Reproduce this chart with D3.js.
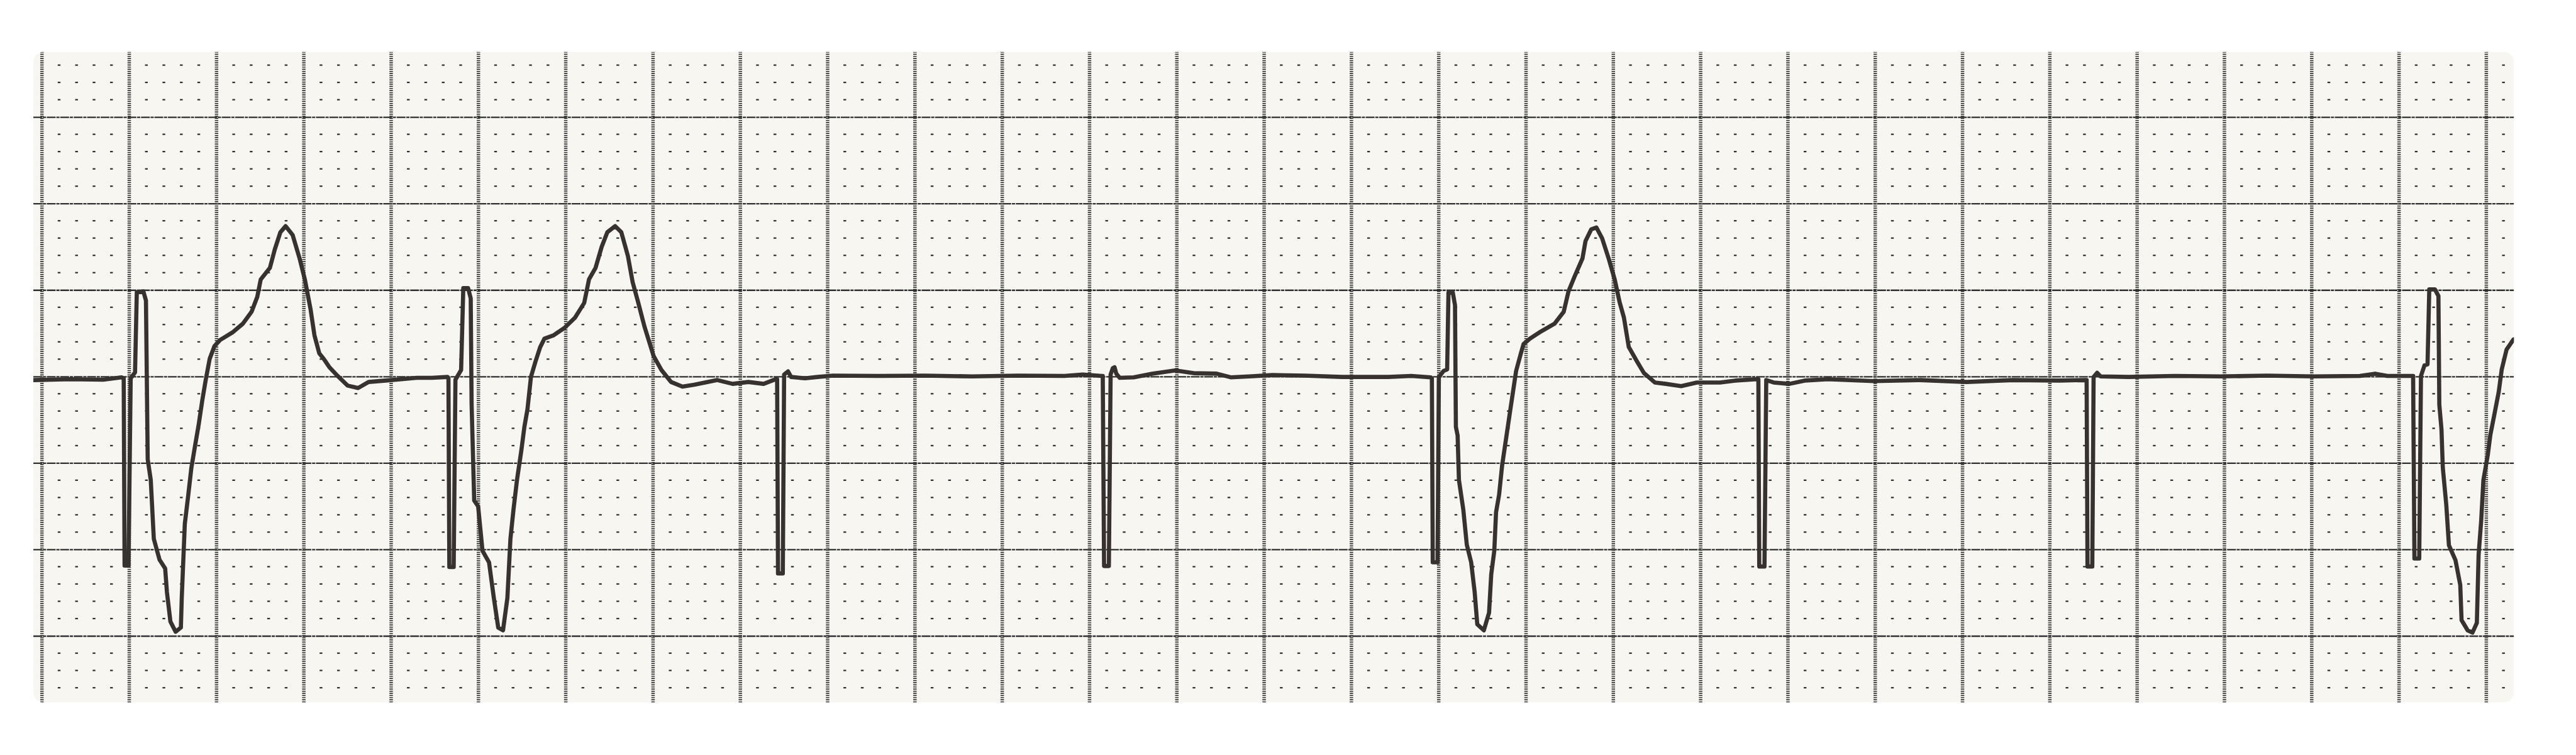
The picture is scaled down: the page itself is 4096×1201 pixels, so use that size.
<!DOCTYPE html>
<html><head><meta charset="utf-8">
<script src="https://cdn.jsdelivr.net/npm/d3@7"></script>
<style>html,body{margin:0;padding:0;background:#fff;overflow:hidden}</style>
</head><body><svg id="c" width="4096" height="1201"></svg>
<script>
// ---- Data: time in ms, amplitude in mV (25 mm/s, 10 mm/mV paper) ----
const leadIn = [[-19,-0.021],[64,-0.016],[141,-0.019],[183,-0.005]];
const pacedBeat1 = [[188,-0.011],[190,-1.094],[199,-1.094],[204,-0.011],[214,0.024],[218,0.487],[233,0.492],[239,0.439],[243,-0.479],[250,-0.599],[257,-0.939],[270,-1.059],[283,-1.110],[287,-1.246],[295,-1.417],[307,-1.476],[319,-1.452],[321,-1.281],[328,-0.853],[336,-0.684],[343,-0.529],[352,-0.393],[360,-0.275],[368,-0.139],[376,-0.019],[385,0.102],[396,0.176],[409,0.211],[437,0.254],[461,0.305],[481,0.374],[494,0.460],[502,0.561],[523,0.628],[534,0.733],[547,0.834],[559,0.869],[575,0.818],[591,0.682],[603,0.561],[616,0.390],[625,0.238],[636,0.134],[647,0.099],[660,0.051],[675,0.011],[701,-0.053],[725,-0.067],[749,-0.032],[788,-0.024],[824,-0.016],[859,-0.008],[894,-0.008],[930,-0.003]];
const pacedBeat2 = [[932,-0.011],[934,-1.102],[944,-1.102],[948,-0.019],[961,0.037],[966,0.511],[977,0.511],[983,0.452],[985,-0.155],[991,-0.717],[1000,-0.751],[1010,-1.008],[1025,-1.075],[1036,-1.281],[1046,-1.452],[1057,-1.468],[1067,-1.281],[1074,-0.939],[1081,-0.770],[1089,-0.599],[1099,-0.428],[1106,-0.291],[1113,-0.190],[1121,-0.003],[1131,0.083],[1142,0.168],[1152,0.219],[1173,0.238],[1198,0.281],[1222,0.340],[1243,0.425],[1254,0.561],[1269,0.628],[1283,0.749],[1296,0.834],[1314,0.869],[1328,0.834],[1343,0.698],[1354,0.545],[1367,0.425],[1381,0.289],[1402,0.118],[1420,0.037],[1442,-0.032],[1468,-0.059],[1495,-0.048],[1548,-0.021],[1583,-0.043],[1619,-0.032],[1654,-0.043],[1682,-0.016]];
const spikeOnly3 = [[1685,-0.016],[1687,-1.139],[1698,-1.139],[1701,0.011],[1710,0.029],[1717,-0.003],[1749,-0.011],[1778,-0.003],[1813,0.005],[1919,0.003],[2024,0.005],[2131,0],[2237,0.005],[2343,0.003],[2385,0.011],[2428,0.003]];
const spikeOnly4 = [[2431,0.003],[2434,-1.096],[2445,-1.096],[2449,0.011],[2454,0.048],[2458,0.053],[2462,0.016],[2470,-0.008],[2502,-0.005],[2544,0.016],[2597,0.035],[2639,0.019],[2692,0.016],[2724,-0.005],[2767,0],[2820,0.008],[2894,0.005],[2979,-0.003],[3085,-0.003],[3138,0.003],[3182,-0.005]];
const pacedBeat5 = [[3185,-0.011],[3187,-1.075],[3198,-1.075],[3201,-0.003],[3212,0.032],[3220,0.040],[3223,0.484],[3233,0.484],[3238,0.412],[3240,-0.291],[3244,-0.342],[3247,-0.599],[3257,-0.770],[3265,-0.973],[3275,-1.075],[3283,-1.246],[3289,-1.433],[3304,-1.468],[3316,-1.366],[3321,-1.144],[3328,-1.008],[3332,-0.786],[3339,-0.684],[3346,-0.513],[3353,-0.393],[3363,-0.222],[3371,-0.086],[3378,0.032],[3389,0.134],[3395,0.187],[3410,0.219],[3431,0.254],[3466,0.305],[3487,0.374],[3498,0.492],[3512,0.578],[3530,0.682],[3537,0.783],[3550,0.850],[3562,0.861],[3575,0.799],[3590,0.682],[3604,0.559],[3615,0.430],[3625,0.340],[3636,0.171],[3654,0.091],[3671,0.019],[3696,-0.035],[3721,-0.043],[3756,-0.056],[3792,-0.035],[3845,-0.035],[3880,-0.024],[3929,-0.016]];
const spikeOnly6 = [[3933,-0.016],[3935,-1.099],[3947,-1.099],[3951,-0.021],[3968,-0.035],[4004,-0.043],[4039,-0.024],[4092,-0.016],[4198,-0.027],[4304,-0.021],[4410,-0.032],[4516,-0.021],[4622,-0.024],[4682,-0.021]];
const spikeOnly7 = [[4685,-0.021],[4687,-1.099],[4698,-1.099],[4701,-0.003],[4709,0.021],[4717,0],[4781,-0.003],[4887,0.003],[4993,0],[5099,0.005],[5205,0],[5311,0.003],[5346,0.016],[5374,0.003],[5430,0.003]];
const pacedBeat8 = [[5433,0.003],[5436,-1.053],[5447,-1.053],[5451,0.003],[5459,0.064],[5466,0.070],[5470,0.503],[5483,0.503],[5491,0.465],[5493,-0.163],[5498,-0.307],[5501,-0.527],[5509,-0.743],[5515,-0.976],[5530,-1.062],[5541,-1.206],[5544,-1.409],[5558,-1.468],[5569,-1.481],[5579,-1.425],[5583,-1.032],[5589,-0.832],[5594,-0.599],[5604,-0.455],[5610,-0.337],[5618,-0.235],[5629,-0.091],[5636,0.040],[5647,0.155],[5663,0.214]];

const majorTimes = d3.range(0, 5601, 200);          // ms (large boxes)
const majorVolts = [-1.5, -1.0, -0.5, 0, 0.5, 1.0, 1.5]; // mV
const paperTime = [-19, 5664];
const paperVolt = [-1.885, 1.877];

// ---- Layout ----
const W = 4096, H = 1201, K = W / 5568;
const x = d3.scaleLinear().domain([0, 5600]).range([90 * K, 5373.5 * K]);
const y = d3.scaleLinear().domain([-1.5, 1.5]).range([1375 * K, 253 * K]);
const svg = d3.select('#c');
svg.append('rect').attr('width', W).attr('height', H).attr('fill', '#ffffff');

const px0 = x(paperTime[0]), px1 = x(paperTime[1]);
const py0 = y(paperVolt[1]), py1 = y(paperVolt[0]);
const defs = svg.append('defs');
defs.append('clipPath').attr('id', 'paper').append('rect')
  .attr('x', px0).attr('y', py0).attr('width', px1 - px0).attr('height', py1 - py0)
  .attr('rx', 16).attr('ry', 16);

const g = svg.append('g').attr('clip-path', 'url(#paper)');
g.append('rect').attr('x', px0).attr('y', py0).attr('width', px1 - px0).attr('height', py1 - py0)
  .attr('fill', '#f7f6f1');

// minor dot grid
const cols = d3.range(1, 142).filter(j => j % 5 !== 0).map(j => j * 40).filter(t => t < paperTime[1]);
const rows = d3.range(-18, 19).filter(i => i % 5 !== 0).map(i => i / 10);
const dots = [];
cols.forEach(t => rows.forEach(v => dots.push([t, v])));
g.append('g').selectAll('rect').data(dots).join('rect')
  .attr('x', d => x(d[0]) - 2.2).attr('y', d => y(d[1]) - 1.1)
  .attr('width', 4.4).attr('height', 2.2).attr('fill', '#2e2c2a');

// horizontal major lines (axis)
const yAxis = d3.axisLeft(y).tickValues(majorVolts).tickSize(-(px1 - px0)).tickFormat('');
const ya = g.append('g').attr('transform', `translate(${px0},0)`).call(yAxis);
ya.select('.domain').remove();
ya.selectAll('line').attr('stroke', '#2f2f2f').attr('stroke-width', 2.3)
  .attr('stroke-dasharray', '14 1.2 5 1.2');

// vertical major lines (axis)
const xAxis = d3.axisBottom(x).tickValues(majorTimes).tickSize(-(py1 - py0)).tickFormat('');
const xa = g.append('g').attr('transform', `translate(0,${py1})`).call(xAxis);
xa.select('.domain').remove();
xa.selectAll('line').attr('stroke', '#333333').attr('stroke-width', 5.5)
  .attr('stroke-dasharray', '1.7 1.7');

// ECG trace
const trace = [].concat(leadIn, pacedBeat1, pacedBeat2, spikeOnly3, spikeOnly4,
  pacedBeat5, spikeOnly6, spikeOnly7, pacedBeat8);
const line = d3.line().x(d => x(d[0])).y(d => y(d[1]));
g.append('path').datum(trace).attr('d', line)
  .attr('fill', 'none').attr('stroke', '#37322f').attr('stroke-width', 6.6)
  .attr('stroke-linejoin', 'round').attr('stroke-linecap', 'round');
</script></body></html>
